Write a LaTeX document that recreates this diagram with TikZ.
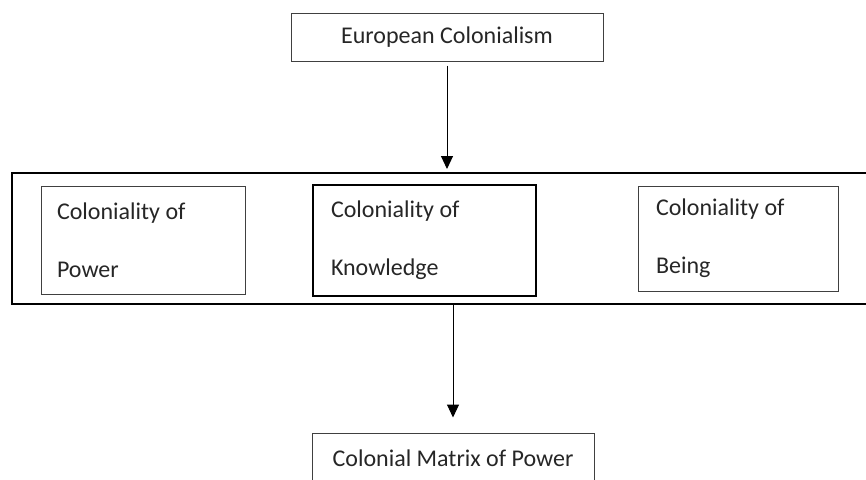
\documentclass[tikz,border=0pt]{standalone}
\usepackage{fontspec}
\setmainfont{Carlito}
\usetikzlibrary{arrows.meta,calc}
\tikzset{
    title/.style = {draw=black!75, line width=0.5pt, rectangle,
        align=center, font=\fontsize{12}{14}\selectfont},
    block/.style = {draw=black!75, line width=0.5pt, rectangle,
        align=flush left, font=\fontsize{12}{29}\selectfont},
    group/.style = {draw, line width=1pt, rectangle},
    arrow/.style = {draw, -{Triangle[length=6.5pt,width=6pt]}, line width=0.5pt}
}

\begin{document}
\begin{tikzpicture}[x=0.5pt, y=-0.5pt, text=black!85]
    \useasboundingbox (0,0) rectangle (866,479);
    \node [title, minimum width=156pt, minimum height=24pt] (colonialism) at (447,37) {European Colonialism};
    % the three colonialities
    \node [group, minimum width=430pt, minimum height=65.5pt] (coloniality) at (442,238.5) {};
    \node [block, inner xsep=8pt, text width=86pt, minimum height=54pt] (power) at (143,240) {Coloniality of\\Power};
    \node [block, line width=1pt, draw=black, inner xsep=9pt, text width=93.5pt, minimum height=55.5pt] (knowledge) at (424.5,240.5) {Coloniality of\\Knowledge};
    \node [block, inner xsep=9pt, text width=82pt, minimum height=52.5pt] (being) at (738,238.5) {Coloniality of\\Being};
    \node [title, minimum width=141pt, minimum height=25pt] (cmp) at (453,458) {Colonial Matrix of Power};
    \draw [arrow, shorten <=2pt, shorten >=1.5pt] (colonialism.south) -- (colonialism.south |- coloniality.north);
    \draw [arrow, shorten >=7.5pt] (coloniality.south -| cmp.north) -- (cmp.north);
\end{tikzpicture}
\end{document}
